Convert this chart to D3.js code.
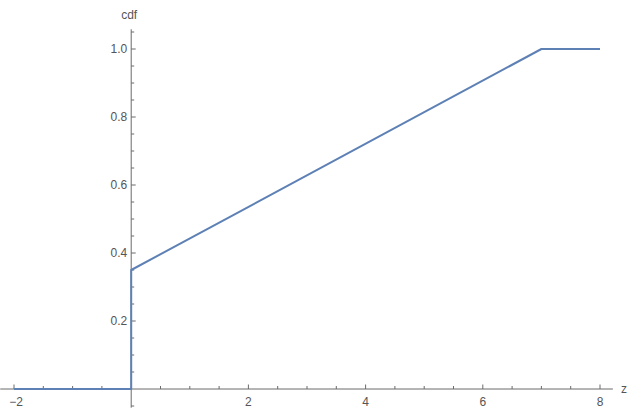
<!DOCTYPE html>
<html><head><meta charset="utf-8">
<script src="https://cdn.jsdelivr.net/npm/d3@7"></script>
<style>body{margin:0;background:#fff}svg{display:block}text{font-family:"Liberation Sans",Arial,sans-serif}</style>
</head><body>
<script>
const zValues = [-2, 0, 0, 7, 8];
const cdfValues = [0, 0, 0.35, 1, 1];
const xTickLabels = [-2, 2, 4, 6, 8];
const yTickLabels = [0.2, 0.4, 0.6, 0.8, 1.0];

const W = 642, H = 418;
const svg = d3.select("body").append("svg").attr("width", W).attr("height", H);
const x = d3.scaleLinear().domain([-2, 8]).range([14, 600]);
const y = d3.scaleLinear().domain([0, 1]).range([389, 49]);
const axisColor = "#6b6b6b", labelColor = "#555";

// axes lines
svg.append("line").attr("x1", x(-2.235)).attr("x2", x(8.22)).attr("y1", y(0)).attr("y2", y(0))
  .attr("stroke", axisColor).attr("stroke-width", 1);
svg.append("line").attr("x1", x(0)).attr("x2", x(0)).attr("y1", y(-0.055)).attr("y2", y(1.058))
  .attr("stroke", axisColor).attr("stroke-width", 1);

// x ticks
const xt = d3.range(-4, 17).map(i => i / 2);
xt.forEach(t => {
  if (t === 0) return;
  const major = Number.isInteger(t / 2);
  svg.append("line").attr("x1", x(t)).attr("x2", x(t)).attr("y1", y(0)).attr("y2", y(0) - (major ? 4.5 : 3))
    .attr("stroke", axisColor);
});
xTickLabels.forEach(t => {
  svg.append("text").attr("x", x(t) + (t < 0 ? 2 : 0)).attr("y", y(0) + 16.5).attr("text-anchor", "middle")
    .attr("font-size", 12).attr("fill", labelColor).text(d3.format("")(t).replace("-", "\u2212"));
});
// y ticks
const yt = d3.range(-1, 22).map(i => i * 0.05);
yt.forEach((t, i) => {
  if (i === 1) return;
  const major = (i - 1) % 4 === 0;
  svg.append("line").attr("x1", x(0)).attr("x2", x(0) + (major ? 4.5 : 3)).attr("y1", y(t)).attr("y2", y(t))
    .attr("stroke", axisColor);
});
yTickLabels.forEach(t => {
  svg.append("text").attr("x", x(0) - 4).attr("y", y(t) + 4).attr("text-anchor", "end")
    .attr("font-size", 12).attr("fill", labelColor).text(d3.format(".1f")(t));
});
svg.append("text").attr("x", x(0) - 10).attr("y", 19).attr("font-size", 12).attr("fill", labelColor).text("cdf");
svg.append("text").attr("x", 621).attr("y", y(0) + 4).attr("font-size", 12).attr("fill", labelColor).text("z");

// line
const pts = zValues.map((z, i) => [z, cdfValues[i]]);
svg.append("path").datum(pts)
  .attr("d", d3.line().x(d => x(d[0])).y(d => y(d[1])))
  .attr("fill", "none").attr("stroke", "#5E81B5").attr("stroke-width", 2).attr("stroke-linejoin", "round");
</script>
</body></html>
